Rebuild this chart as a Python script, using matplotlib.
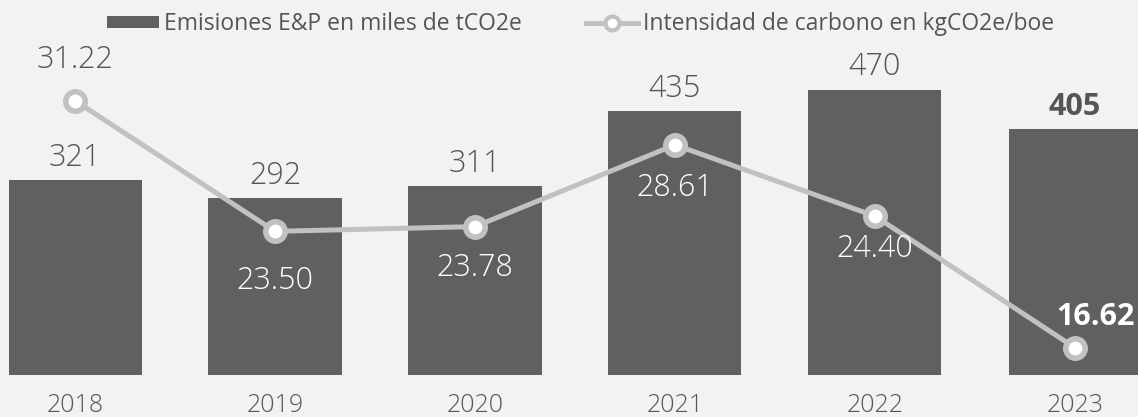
import numpy as np
import matplotlib.pyplot as plt
from matplotlib.patches import Patch
from matplotlib.lines import Line2D

years = ['2018', '2019', '2020', '2021', '2022', '2023']
emissions = [321, 292, 311, 435, 470, 405]
intensity = [31.22, 23.50, 23.78, 28.61, 24.40, 16.62]
emis_labels = ['321', '292', '311', '435', '470', '405']
int_labels = ['31.22', '23.50', '23.78', '28.61', '24.40', '16.62']
# label offsets for the intensity values (points)
int_dy = [29, -36, -30, -31, -24, 22]
int_dx = [0, 0, 0, 0, 0, 15]

bg = '#f2f2f2'
bar_color = '#5f6062'
line_color = '#c0c1c2'
text_color = '#555556'

plt.rcParams['font.family'] = ['Open Sans', 'DejaVu Sans']

fig = plt.figure(figsize=(11.38, 4.17), dpi=100, facecolor=bg)
ax = fig.add_axes([0, 0, 1, 1])
ax.set_facecolor(bg)
x = np.arange(len(years))
ax.bar(x, emissions, width=0.665, color=bar_color, zorder=1)
ax.set_xlim(-0.375, 5.315)
ax.set_ylim(-69.2, 617.8)
ax.axis('off')

for i, (v, lab) in enumerate(zip(emissions, emis_labels)):
    bold = i == len(years) - 1
    ax.annotate(lab, (x[i], v), xytext=(0, 16), textcoords='offset points',
                ha='center', va='center', fontsize=22, color=text_color,
                fontweight='bold' if bold else 'light')
    ax.annotate(years[i], (x[i], 0), xytext=(0, -22), textcoords='offset points',
                ha='center', va='center', fontsize=18, color=text_color,
                fontweight='light')

ax2 = ax.twinx()
ax2.set_ylim(12.53, 37.17)
ax2.axis('off')
ax2.plot(x, intensity, color=line_color, lw=3.6, marker='o', ms=14,
         mfc='white', mec=line_color, mew=4, zorder=3)
for i, (v, lab) in enumerate(zip(intensity, int_labels)):
    c = text_color if i == 0 else 'white'
    bold = i == len(years) - 1
    ax2.annotate(lab, (x[i], v), xytext=(int_dx[i], int_dy[i]), textcoords='offset points',
                 ha='center', va='center', fontsize=22, color=c,
                 fontweight='bold' if bold else 'light', annotation_clip=False)

handles = [Patch(facecolor=bar_color, edgecolor='none'),
           Line2D([], [], color=line_color, lw=3.6, marker='o', ms=10,
                  mfc='white', mec=line_color, mew=3)]
fig.legend(handles, ['Emisiones E&P en miles de tCO2e', 'Intensidad de carbono en kgCO2e/boe'],
           loc='center', bbox_to_anchor=(0.51, 0.942), ncol=2, frameon=False,
           fontsize=16.5, handlelength=2.27, handleheight=0.4, handletextpad=0.22,
           columnspacing=2.8, labelcolor=text_color)

fig.savefig('out.png', dpi=100, facecolor=bg)
